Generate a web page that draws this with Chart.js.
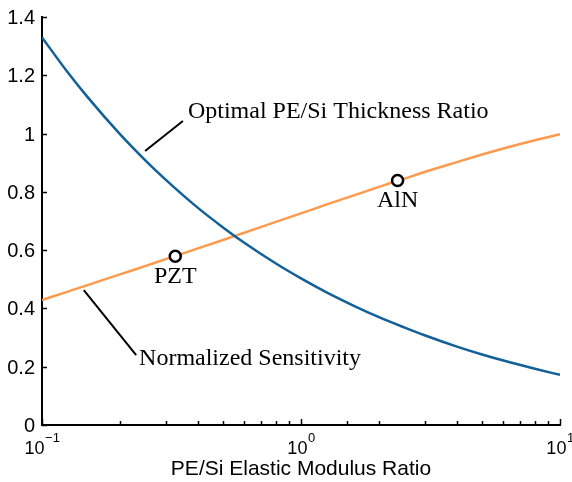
<!DOCTYPE html>
<html>
<head>
<meta charset="utf-8">
<script src="https://cdn.jsdelivr.net/npm/chart.js@4.4.1/dist/chart.umd.min.js"></script>
<style>
  html, body { margin: 0; padding: 0; background: #fff; }
  canvas { display: block; }
</style>
</head>
<body>
<canvas id="modulusChart" width="572" height="482"></canvas>
<script>
// modulus ratio sweep and the two curves
const modulusRatio = [0.1, 0.125, 0.15, 0.2, 0.25, 0.3, 0.4, 0.5, 0.6, 0.8, 1, 1.25, 1.6, 2, 2.5, 3, 4, 5, 6, 8, 10];
const thicknessRatio = [1.33, 1.213, 1.125, 0.998, 0.909, 0.842, 0.745, 0.678, 0.627, 0.554, 0.503, 0.456, 0.409, 0.370, 0.335, 0.308, 0.269, 0.242, 0.222, 0.193, 0.172];
const sensitivity = [0.429, 0.457, 0.480, 0.517, 0.545, 0.569, 0.606, 0.635, 0.659, 0.697, 0.726, 0.756, 0.788, 0.817, 0.845, 0.868, 0.902, 0.928, 0.948, 0.977, 0.998];

// materials marked on the sensitivity curve
const materials = ["PZT", "AlN"];
const materialRatio = [0.327, 2.36];
const materialSensitivity = [0.579, 0.839];

// axis ticks
const yTicks = [0, 0.2, 0.4, 0.6, 0.8, 1, 1.2, 1.4];
const yTickLabels = ["0", "0.2", "0.4", "0.6", "0.8", "1", "1.2", "1.4"];
const xDecades = [0.1, 1, 10];
const xExponents = ["\u22121", "0", "1"];

const SANS = "'Liberation Sans', Arial, Helvetica, sans-serif";
const SERIF = "'Liberation Serif', 'Times New Roman', serif";

const toPoints = (xs, ys) => xs.map((x, i) => ({ x: x, y: ys[i] }));

// callouts in data coordinates: text start and leader line ends
const callouts = [
  { text: "Optimal PE/Si Thickness Ratio", at: [0.366, 1.074], from: [0.25, 0.94], to: [0.35, 1.043] },
  { text: "Normalized Sensitivity", at: [0.237, 0.228], from: [0.145, 0.463], to: [0.231, 0.24] }
];

const axisDecor = {
  id: "axisDecor",
  afterDraw(chart) {
    const ctx = chart.ctx;
    const xs = chart.scales.x;
    const ys = chart.scales.y;
    const area = chart.chartArea;
    ctx.save();
    ctx.strokeStyle = "#000";
    ctx.fillStyle = "#000";
    ctx.lineWidth = 1.5;

    // y ticks point into the plot
    ctx.font = "20px " + SANS;
    ctx.textAlign = "right";
    ctx.textBaseline = "middle";
    yTicks.forEach((v, i) => {
      const py = Math.round(ys.getPixelForValue(v)) + 0.5;
      ctx.beginPath();
      ctx.moveTo(area.left, py);
      ctx.lineTo(area.left + 5, py);
      ctx.stroke();
      ctx.fillText(yTickLabels[i], area.left - 7, py + 1);
    });

    // x ticks from the log scale, longer on each decade
    xs.ticks.forEach((t) => {
      const px = Math.round(xs.getPixelForValue(t.value)) + 0.5;
      const lg = Math.log10(t.value);
      const major = Math.abs(lg - Math.round(lg)) < 1e-6;
      ctx.beginPath();
      ctx.moveTo(px, area.bottom);
      ctx.lineTo(px, area.bottom - (major ? 6 : 4));
      ctx.stroke();
    });

    // decade labels as 10 with a raised exponent
    xDecades.forEach((v, i) => {
      const px = xs.getPixelForValue(v);
      ctx.font = "18px " + SANS;
      const wBase = ctx.measureText("10").width;
      ctx.font = "13px " + SANS;
      const wExp = ctx.measureText(xExponents[i]).width;
      const left = px - (wBase + wExp) / 2;
      ctx.textAlign = "left";
      ctx.textBaseline = "alphabetic";
      ctx.font = "18px " + SANS;
      ctx.fillText("10", left, area.bottom + 29);
      ctx.font = "13px " + SANS;
      ctx.fillText(xExponents[i], left + wBase + 0.5, area.bottom + 17);
    });

    // axis title
    ctx.font = "21px " + SANS;
    ctx.textAlign = "center";
    ctx.fillText("PE/Si Elastic Modulus Ratio", (area.left + area.right) / 2, area.bottom + 50);

    // callouts with leader lines
    ctx.lineWidth = 2;
    ctx.font = "24px " + SERIF;
    ctx.textAlign = "left";
    ctx.textBaseline = "middle";
    callouts.forEach((c) => {
      ctx.beginPath();
      ctx.moveTo(xs.getPixelForValue(c.from[0]), ys.getPixelForValue(c.from[1]));
      ctx.lineTo(xs.getPixelForValue(c.to[0]), ys.getPixelForValue(c.to[1]));
      ctx.stroke();
      ctx.fillText(c.text, xs.getPixelForValue(c.at[0]), ys.getPixelForValue(c.at[1]));
    });

    // material names under their markers
    ctx.textAlign = "center";
    materials.forEach((name, i) => {
      const px = xs.getPixelForValue(materialRatio[i]);
      const py = ys.getPixelForValue(materialSensitivity[i]);
      ctx.fillText(name, px, py + 20);
    });
    ctx.restore();
  }
};

new Chart(document.getElementById("modulusChart"), {
  type: "line",
  data: {
    datasets: [
      {
        label: "Materials",
        data: toPoints(materialRatio, materialSensitivity),
        showLine: false,
        pointRadius: 5.5,
        pointBorderWidth: 2.5,
        pointBorderColor: "#000",
        pointBackgroundColor: "#fff",
        order: 0
      },
      {
        label: "Optimal PE/Si Thickness Ratio",
        data: toPoints(modulusRatio, thicknessRatio),
        borderColor: "#12609a",
        borderWidth: 2.5,
        pointRadius: 0,
        cubicInterpolationMode: "monotone",
        order: 1
      },
      {
        label: "Normalized Sensitivity",
        data: toPoints(modulusRatio, sensitivity),
        borderColor: "#fd9a4e",
        borderWidth: 2.5,
        pointRadius: 0,
        cubicInterpolationMode: "monotone",
        order: 2
      }
    ]
  },
  options: {
    responsive: false,
    animation: false,
    layout: { padding: { left: 42, right: 12, top: 17, bottom: 57 } },
    plugins: {
      legend: { display: false },
      tooltip: { enabled: false }
    },
    scales: {
      x: {
        type: "logarithmic",
        min: 0.1,
        max: 10,
        grid: { display: false, drawTicks: false },
        border: { display: true, color: "#000", width: 2 },
        ticks: { display: false },
        afterFit: (s) => { s.height = 0; }
      },
      y: {
        type: "linear",
        min: 0,
        max: 1.4,
        grid: { display: false, drawTicks: false },
        border: { display: true, color: "#000", width: 2 },
        ticks: { display: false, stepSize: 0.2 },
        afterFit: (s) => { s.width = 0; }
      }
    }
  },
  plugins: [axisDecor]
});
</script>
</body>
</html>
